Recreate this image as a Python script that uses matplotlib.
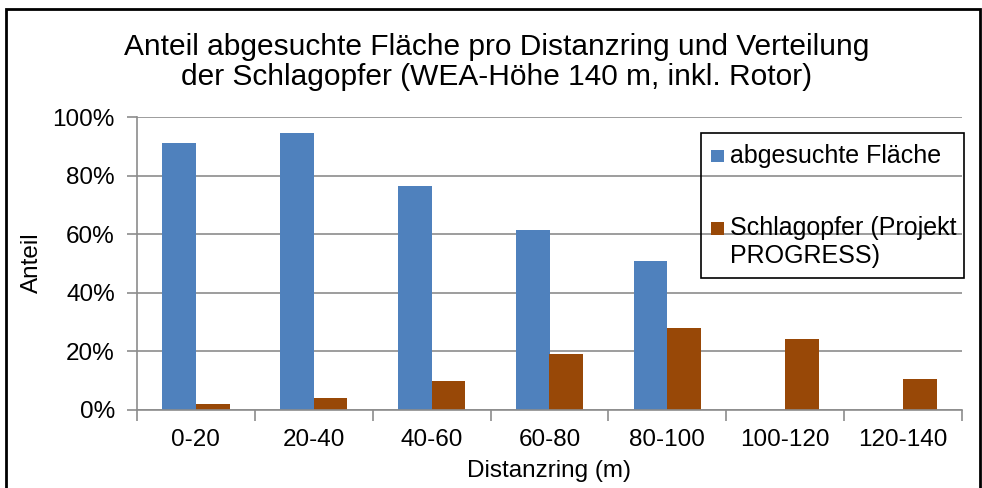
import matplotlib.pyplot as plt
import numpy as np
from matplotlib.patches import Rectangle

# Daten
categories = ['0-20', '20-40', '40-60', '60-80', '80-100', '100-120', '120-140']
flaeche = [91.0, 94.5, 76.5, 61.5, 50.7, 0.0, 0.0]
opfer = [2.0, 4.2, 10.0, 19.0, 28.0, 24.3, 10.5]
yticks = [0, 20, 40, 60, 80, 100]

blue = '#4F81BD'
brown = '#984807'
grey = '#8C8C8C'

plt.rcParams['font.family'] = ['Liberation Sans', 'DejaVu Sans']

W, H = 982, 488
fx = lambda px: px / W
fy = lambda py: 1 - py / H

fig = plt.figure(figsize=(W / 100, H / 100), dpi=100)
ax = fig.add_axes([fx(137), fy(410), fx(962) - fx(137), fy(117) - fy(410)])

x = np.arange(len(categories))
w = 0.286
ax.bar(x - w / 2, flaeche, w, color=blue, zorder=2)
ax.bar(x + w / 2, opfer, w, color=brown, zorder=2)

ax.set_xlim(-0.5, len(categories) - 0.5)
ax.set_ylim(0, 100)
ax.set_yticks(yticks)
ax.set_yticklabels([f'{v}%' for v in yticks], fontsize=17.5)
ax.yaxis.grid(True, color=grey, lw=1.2)
ax.set_axisbelow(True)

# Trennstriche zwischen den Kategorien, Beschriftung in der Mitte
ax.set_xticks(np.arange(-0.5, len(categories), 1))
ax.set_xticklabels([])
ax.set_xticks(x, minor=True)
ax.set_xticklabels(categories, minor=True, fontsize=17.5)
ax.tick_params(axis='x', which='major', length=8, color=grey, width=1.2)
ax.tick_params(axis='x', which='minor', length=0, pad=14)
ax.tick_params(axis='y', length=7, color=grey, width=1.2, pad=9)

for s in ['top', 'right']:
    ax.spines[s].set_visible(False)
for s in ['left', 'bottom']:
    ax.spines[s].set_color(grey)
    ax.spines[s].set_linewidth(1.2)

# Titel und Achsentitel
fig.text(fx(497), fy(62), 'Anteil abgesuchte Fläche pro Distanzring und Verteilung\n'
         'der Schlagopfer (WEA-Höhe 140 m, inkl. Rotor)',
         ha='center', va='center', fontsize=21.5, linespacing=1.12)
fig.text(fx(32), fy(263), 'Anteil', rotation=90, ha='center', va='center', fontsize=17.5)
fig.text(fx(549), fy(471), 'Distanzring (m)', ha='center', va='center', fontsize=17.5)

# Legende
fig.patches.append(Rectangle((fx(701), fy(278)), fx(964) - fx(701), fy(133) - fy(278),
                             transform=fig.transFigure, fill=False, ec='black', lw=1.2))
fig.patches.append(Rectangle((fx(711), fy(162)), fx(13), fy(150) - fy(162),
                             transform=fig.transFigure, fc=blue, ec='none'))
fig.patches.append(Rectangle((fx(711), fy(235)), fx(13), fy(222) - fy(235),
                             transform=fig.transFigure, fc=brown, ec='none'))
fig.text(fx(730), fy(156), 'abgesuchte Fläche', ha='left', va='center', fontsize=18)
fig.text(fx(730), fy(216), 'Schlagopfer (Projekt\nPROGRESS)', ha='left', va='top',
         fontsize=18, linespacing=1.2)

# Rahmen um die Grafik
fig.patches.append(Rectangle((fx(6), -0.02), fx(980) - fx(6), fy(9) + 0.02,
                             transform=fig.transFigure, fill=False, ec='black', lw=2))

fig.savefig('out.png', dpi=100)
